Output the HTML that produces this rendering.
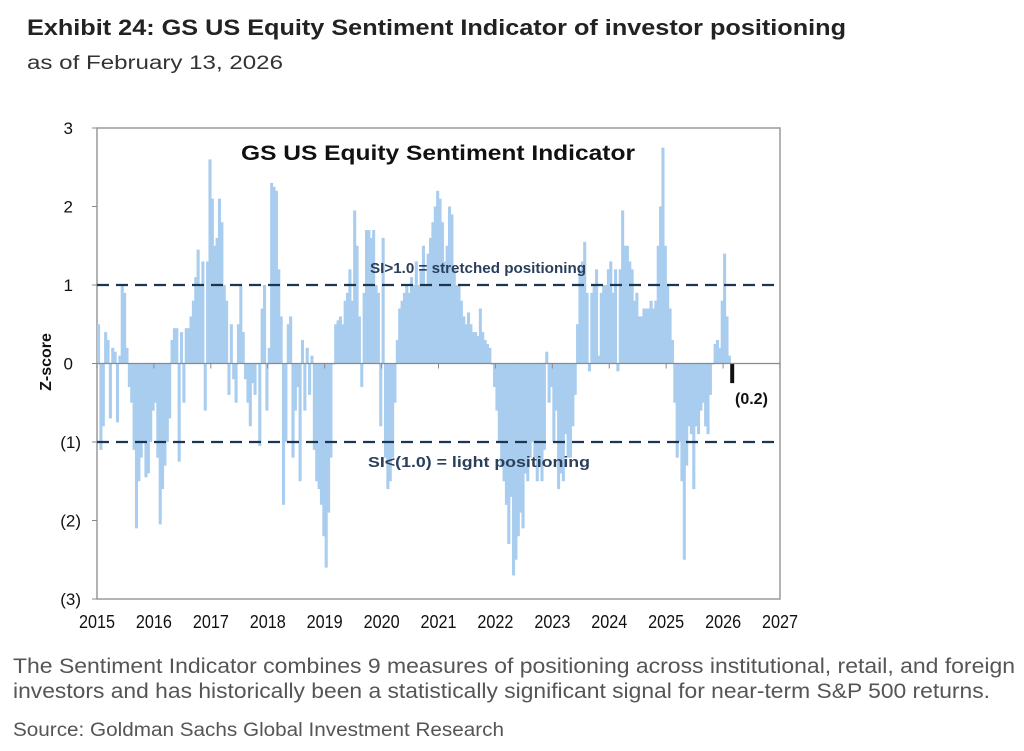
<!DOCTYPE html>
<html><head><meta charset="utf-8"><style>
html,body{margin:0;padding:0;background:#fff;}
svg{display:block;font-family:"Liberation Sans",Arial,sans-serif;}
.nar{font-family:"Liberation Sans Narrow","Liberation Sans",Arial,sans-serif;}
</style></head><body>
<svg id="chart" width="1024" height="751" viewBox="0 0 1024 751">
<text x="27" y="35" font-size="22" font-weight="bold" fill="#222" textLength="819" lengthAdjust="spacingAndGlyphs">Exhibit 24: GS US Equity Sentiment Indicator of investor positioning</text>
<text x="27" y="69" font-size="19" fill="#333" textLength="256" lengthAdjust="spacingAndGlyphs">as of February 13, 2026</text>
<g id="plot"></g>
<text class="nar" x="13" y="673" font-size="21" fill="#555" textLength="1002" lengthAdjust="spacingAndGlyphs">The Sentiment Indicator combines 9 measures of positioning across institutional, retail, and foreign</text>
<text class="nar" x="13" y="698" font-size="21" fill="#555" textLength="977" lengthAdjust="spacingAndGlyphs">investors and has historically been a statistically significant signal for near-term S&amp;P 500 returns.</text>
<text class="nar" x="13" y="736" font-size="19" fill="#555" textLength="491" lengthAdjust="spacingAndGlyphs">Source: Goldman Sachs Global Investment Research</text>
</svg>
<script>
const startYear = 2015;
const periodsPerYear = 24;
const yearTicks = [2015,2016,2017,2018,2019,2020,2021,2022,2023,2024,2025,2026,2027];
const yTicks = [3,2,1,0,-1,-2,-3];
const yTickLabels = ["3","2","1","0","(1)","(2)","(3)"];
const thresholds = [1,-1];
const v2015 = [0.5,-1.1,-0.8,0.4,0.3,-0.7,0.2,0.15,-0.75,0.1,1.0,0.9,0.2,-0.3,-0.5,-1.1,-2.1,-1.5,-1.2,-1.0,-1.45,-1.4,-1.0,-0.6];
const v2016 = [-0.5,-1.2,-2.05,-1.6,-1.3,-1.0,-0.7,0.3,0.45,0.45,-1.25,0.4,-0.5,0.45,0.45,0.6,0.8,1.1,1.45,1.0,1.3,-0.6,1.3,2.6];
const v2017 = [2.1,1.5,1.6,2.1,1.8,1.0,0.8,-0.4,0.5,-0.2,-0.5,0.5,1.0,0.4,-0.2,-0.5,-0.8,-0.25,-0.4,0.0,-1.05,0.7,1.0,-0.6];
const v2018 = [0.2,2.3,2.25,2.2,1.2,0.6,-1.8,-1.0,0.5,0.6,-1.2,-0.6,-0.3,-1.5,0.3,-0.6,0.2,-0.4,0.1,-1.1,-1.5,-1.6,-1.8,-2.2];
const v2019 = [-2.6,-1.9,-1.2,0.0,0.5,0.55,0.6,0.5,0.8,0.9,1.2,0.8,1.95,1.5,0.6,-0.3,0.9,1.7,1.7,1.6,1.7,1.0,0.9,-0.8];
const v2020 = [1.6,-1.2,-1.6,-1.5,-1.2,-0.5,0.3,0.7,0.8,0.9,1.0,0.9,1.1,1.0,1.3,1.0,1.2,1.5,1.0,1.4,1.6,1.8,2.0,2.2];
const v2021 = [2.1,1.8,1.3,1.5,2.0,1.9,1.2,1.0,1.0,0.8,0.6,0.5,0.65,0.5,0.4,0.4,0.35,0.7,0.4,0.3,0.25,0.2,0.0,-0.3];
const v2022 = [-0.6,-1.0,-1.3,-1.5,-1.8,-2.3,-1.7,-2.7,-2.5,-2.2,-1.9,-2.1,-1.4,-1.5,-1.2,-1.0,-1.2,-1.5,-1.3,-1.5,-1.1,0.15,-0.5,-0.3];
const v2023 = [-1.0,-0.6,-1.6,-1.4,-1.5,-0.9,-1.2,-1.2,-0.8,-0.4,0.5,1.2,1.3,1.55,0.9,-0.1,0.9,1.0,1.2,0.1,0.9,1.0,1.0,1.2];
const v2024 = [1.3,0.9,1.2,-0.1,1.2,1.95,1.5,1.5,1.3,1.2,0.8,0.9,0.6,0.6,0.7,0.7,0.7,0.8,0.7,0.8,1.5,2.0,2.75,1.5];
const v2025 = [1.0,0.7,0.3,-0.5,-1.2,-1.0,-1.5,-2.5,-1.3,-0.8,-0.9,-1.6,-0.8,-0.9,-0.6,-0.5,-0.8,-0.9,-0.4,0.0,0.25,0.3,0.2,0.8];
const v2026 = [1.4,0.6,0.1,-0.25];
const values = [].concat(v2015,v2016,v2017,v2018,v2019,v2020,v2021,v2022,v2023,v2024,v2025,v2026);
const latestLabel = "(0.2)";

const NS="http://www.w3.org/2000/svg";
const plot=document.getElementById('plot');
const L=97,R=780,T=128,B=599;
const x=y=>L+(y-2015)*(R-L)/12;
const yS=v=>T+(3-v)*(B-T)/6;
function mk(tag,attrs,parent){const e=document.createElementNS(NS,tag);for(const k in attrs)e.setAttribute(k,attrs[k]);(parent||plot).appendChild(e);return e;}

const box=mk('rect',{x:L,y:T,width:R-L,height:B-T,fill:'none',stroke:'#9a9a9a','stroke-width':1.5});



const bw=(R-L)/12/periodsPerYear;
values.forEach((v,i)=>{
  const t=startYear+i/periodsPerYear;
  const last=i===values.length-1;
  const b=mk('rect',{x:x(t),y:Math.min(yS(v),yS(0)),width:bw+0.7,height:Math.max(1,Math.abs(yS(v)-yS(0))),fill:last?'#111':'#a9cdee'});
  if(last){b.setAttribute('width',4);}
  
  
});

const zl=mk('line',{x1:L,x2:R,y1:yS(0),y2:yS(0),stroke:'#8a8a8a','stroke-width':1.3});



yearTicks.forEach(yr=>{
  const tk=mk('line',{x1:x(yr),x2:x(yr),y1:yS(0),y2:yS(0)+5,stroke:'#8a8a8a'});
  
  
  const tl=mk('text',{x:x(yr),y:628,'font-size':18,'text-anchor':'middle',fill:'#111',textLength:36,lengthAdjust:'spacingAndGlyphs'});
  tl.textContent=yr;
  
  
});
yTicks.forEach((v,i)=>{
  const tk=mk('line',{x1:L-5,x2:L,y1:yS(v),y2:yS(v),stroke:'#8a8a8a'});
  
  
  const tl=mk('text',{x:v<0?L-16:L-24,y:yS(v)+6,'font-size':17,'text-anchor':'end',fill:'#111'});
  tl.textContent=yTickLabels[i];
  
  
});
thresholds.forEach(v=>{
  const d=mk('line',{x1:L,x2:R,y1:yS(v),y2:yS(v),stroke:'#1c3550','stroke-width':2.2,'stroke-dasharray':'12 7'});
  
  
});
const a1=mk('text',{x:370,y:273,'font-size':15,'font-weight':'bold',fill:'#2a3f5c',textLength:216,lengthAdjust:'spacingAndGlyphs'});
a1.textContent='SI>1.0 = stretched positioning';


const a2=mk('text',{x:368,y:467,'font-size':15,'font-weight':'bold',fill:'#2a3f5c',textLength:222,lengthAdjust:'spacingAndGlyphs'});
a2.textContent='SI<(1.0) = light positioning';


const ct=mk('text',{x:438,y:160,'font-size':21,'font-weight':'bold','text-anchor':'middle',fill:'#111',textLength:394,lengthAdjust:'spacingAndGlyphs'});
ct.textContent='GS US Equity  Sentiment Indicator';


const lv=mk('text',{x:735,y:404,'font-size':16,'font-weight':'bold',fill:'#111'});
lv.textContent=latestLabel;


const yt=mk('text',{x:0,y:0,'font-size':16,'font-weight':'bold',fill:'#111','text-anchor':'middle',transform:'translate(51,362) rotate(-90)'});
yt.textContent='Z-score';


</script>
</body></html>
